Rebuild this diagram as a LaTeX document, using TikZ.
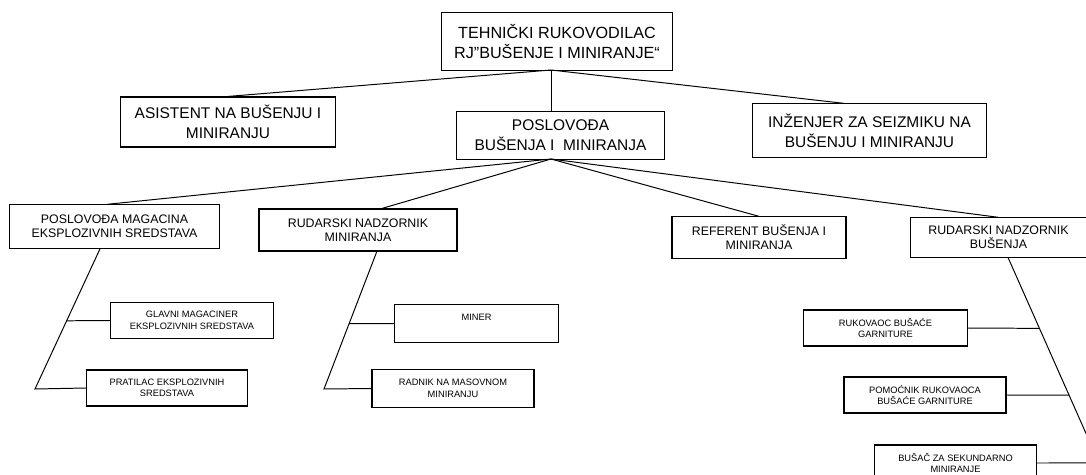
\documentclass[tikz,border=0pt]{standalone}
\usepackage{fontspec}
\setmainfont{Liberation Sans}
\usetikzlibrary{positioning}
\tikzset{
  orgbox/.style={draw,line width=0.8pt,align=center,inner sep=1pt},
  lvlone/.style={orgbox,font=\fontsize{11}{14}\selectfont},
  lvltwo/.style={orgbox,font=\fontsize{8.8}{9.8}\selectfont},
  lvlthree/.style={orgbox,font=\fontsize{6.6}{8.2}\selectfont},
  link/.style={line width=0.7pt}
}
\begin{document}
\begin{tikzpicture}[x=0.025cm,y=-0.025cm]
\useasboundingbox (0,0) rectangle (1086,474);
\clip (0,0) rectangle (1086,474);

% top
\node[lvlone,font=\fontsize{11.5}{14.2}\selectfont,minimum width=5.78cm,minimum height=1.43cm] (tehnicki) at (557,41.5) {TEHNIČKI RUKOVODILAC\\RJ"BUŠENJE I MINIRANJE“};
\node[lvlone,minimum width=5.38cm,minimum height=1.25cm] (asistent) at (228,122) {ASISTENT NA BUŠENJU I\\MINIRANJU};
\node[lvlone,minimum width=5.18cm,minimum height=1.18cm] (poslovodja) at (560.5,135.5) {POSLOVOĐA\\BUŠENJA I~~MINIRANJA};
\node[lvlone,minimum width=5.83cm,minimum height=1.33cm] (inzenjer) at (869.5,130.5) {INŽENJER ZA SEIZMIKU NA\\BUŠENJU I MINIRANJU};
\coordinate (tj) at (551,70);
\coordinate (pj) at (551,159);
\draw[link] (tj) -- (asistent.north);
\draw[link] (tj) -- (tj |- poslovodja.north);
\draw[link] (tj) -- ([xshift=-0.64cm]inzenjer.north);

% second row
\node[lvltwo,minimum width=5.23cm,minimum height=1.08cm] (magacin) at (114.5,226.5) {POSLOVOĐA MAGACINA\\EKSPLOZIVNIH SREDSTAVA};
\node[lvltwo,minimum width=4.95cm,minimum height=1.05cm] (rudmin) at (358,230) {RUDARSKI NADZORNIK\\MINIRANJA};
\node[lvltwo,minimum width=4.35cm,minimum height=1.03cm] (referent) at (759,237.5) {REFERENT BUŠENJA I\\MINIRANJA};
\node[lvltwo,minimum width=4.38cm,minimum height=0.98cm] (rudbus) at (998.5,237.5) {RUDARSKI NADZORNIK\\BUŠENJA};
\draw[link] (pj) -- ([xshift=-0.19cm]magacin.north);
\draw[link] (pj) -- ([xshift=0.6cm]rudmin.north);
\draw[link] (pj) -- (referent.north);
\draw[link] (pj) -- (rudbus.north);

% magacin
\node[lvlthree,minimum width=4.08cm,minimum height=0.88cm] (glavni) at (192,320.5) {GLAVNI MAGACINER\\EKSPLOZIVNIH SREDSTAVA};
\node[lvlthree,minimum width=4.03cm,minimum height=0.9cm] (pratilac) at (167,388) {PRATILAC EKSPLOZIVNIH\\SREDSTAVA};
\coordinate (mgend) at (35,389);
\draw[link] ([xshift=-0.36cm]magacin.south) -- coordinate[pos=0.514] (mg) (mgend) -- (pratilac.west);
\draw[link] (mg) -- (glavni.west);

% miniranje
\node[lvlthree,minimum width=4.08cm,minimum height=0.93cm] (miner) at (476.5,323.5) {MINER\\~};
\node[lvlthree,minimum width=4.05cm,minimum height=0.93cm] (radnik) at (453,388.5) {RADNIK NA MASOVNOM\\MINIRANJU};
\coordinate (rmend) at (324,389);
\draw[link] ([xshift=0.47cm]rudmin.south) -- coordinate[pos=0.525] (rm) (rmend) -- (radnik.west);
\draw[link] (rm) -- (miner.west);

% busenje
\node[lvlthree,minimum width=4.08cm,minimum height=0.9cm] (rukovaoc) at (885.5,328) {RUKOVAOC BUŠAĆE\\GARNITURE};
\node[lvlthree,minimum width=4.05cm,minimum height=0.9cm] (pomocnik) at (925,395) {POMOĆNIK RUKOVAOCA\\BUŠAĆE GARNITURE};
\node[lvlthree,minimum width=4.03cm,minimum height=0.9cm] (busac) at (955.5,463) {BUŠAČ ZA SEKUNDARNO\\MINIRANJE};
\coordinate (rbend) at (1100,465);
\draw[link] ([xshift=0.24cm]rudbus.south) -- coordinate[pos=0.341] (rb1) coordinate[pos=0.663] (rb2) coordinate[pos=0.99] (rb3) (rbend);
\draw[link] (rukovaoc.east) -- (rb1);
\draw[link] (pomocnik.east) -- (rb2);
\draw[link] (busac.east) -- (rb3);
\end{tikzpicture}
\end{document}
